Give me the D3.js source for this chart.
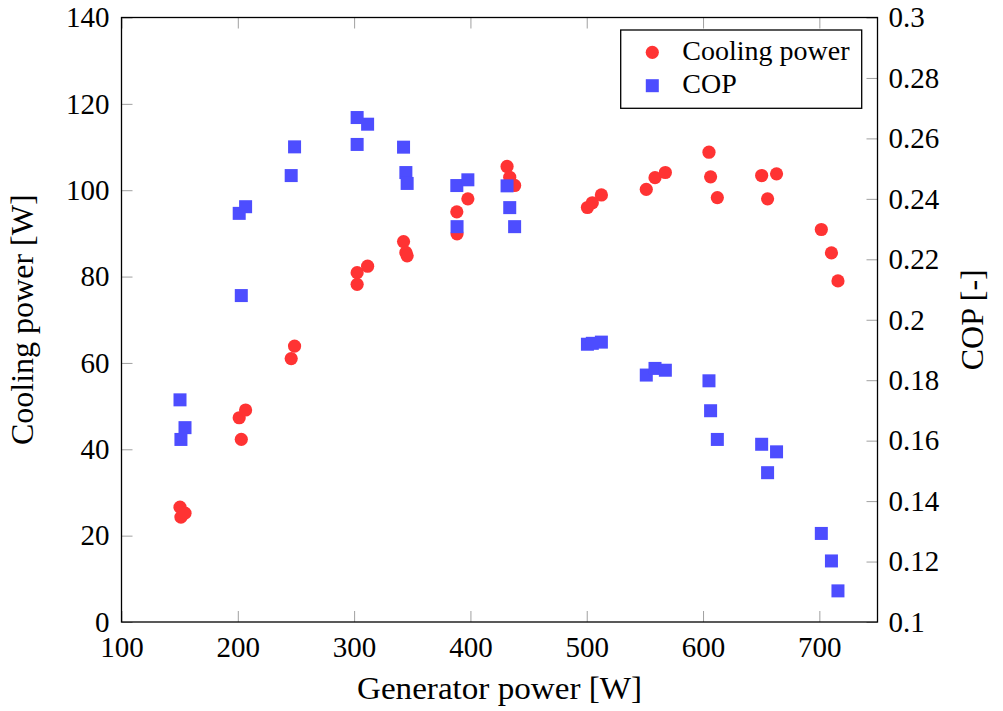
<!DOCTYPE html>
<html>
<head>
<meta charset="utf-8">
<script src="https://cdn.jsdelivr.net/npm/d3@7"></script>
<style>
  html, body { margin: 0; padding: 0; background: #fff; }
  svg { display: block; }
  text { font-family: "Liberation Serif", "Times New Roman", serif; fill: #000; }
</style>
</head>
<body>
<svg id="chart" width="1003" height="711"></svg>
<script>
// ---------- data ----------
const generatorPower = [
  151.1, 150.3, 154.6,
  201.2, 206.7, 203.0,
  245.9, 248.8,
  302.6, 302.6, 311.6,
  342.5, 344.5, 345.6,
  388.3, 388.5, 397.8,
  431.5, 433.8, 438.0,
  500.6, 504.8, 512.6,
  551.2, 558.7, 567.6,
  605.1, 606.5, 612.3,
  650.4, 663.2, 655.5,
  701.7, 710.4, 716.0
];
const coolingPower = [
  24.3, 26.6, 25.2,
  47.3, 49.1, 42.3,
  61.0, 63.9,
  78.2, 80.9, 82.4,
  88.1, 85.6, 84.8,
  95.0, 89.9, 98.0,
  105.5, 103.0, 101.1,
  96.0, 97.1, 98.9,
  100.2, 102.9, 104.1,
  108.8, 103.1, 98.3,
  103.4, 103.8, 98.0,
  90.9, 85.5, 79.0
];
const cop = [
  0.1604, 0.1735, 0.1643,
  0.2352, 0.2374, 0.2080,
  0.2477, 0.2572,
  0.2580, 0.2669, 0.2647,
  0.2571, 0.2487, 0.2451,
  0.2444, 0.2308, 0.2463,
  0.2443, 0.2371, 0.2308,
  0.1919, 0.1922, 0.1926,
  0.1817, 0.1839, 0.1833,
  0.1798, 0.1699, 0.1604,
  0.1588, 0.1563, 0.1494,
  0.1293, 0.1202, 0.1103
];
const xTicks = [100, 200, 300, 400, 500, 600, 700];
const yLeftTicks = [0, 20, 40, 60, 80, 100, 120, 140];
const yRightTicks = [0.1, 0.12, 0.14, 0.16, 0.18, 0.2, 0.22, 0.24, 0.26, 0.28, 0.3];
const yRightTickLabels = ["0.1", "0.12", "0.14", "0.16", "0.18", "0.2", "0.22", "0.24", "0.26", "0.28", "0.3"];
const seriesNames = ["Cooling power", "COP"];
const xTitle = "Generator power [W]";
const yLeftTitle = "Cooling power [W]";
const yRightTitle = "COP [-]";

// ---------- layout ----------
const L = 121.5, R = 877.5, T = 17.5, B = 622;
const red = "#ff3333", blue = "#4d4dff";
const svg = d3.select("#chart");

const x = d3.scaleLinear().domain([100, 750]).range([L, R]);
const yL = d3.scaleLinear().domain([0, 140]).range([B, T]);
const yR = d3.scaleLinear().domain([0.1, 0.3]).range([B, T]);

const tickLen = 11;
function styleAxis(g) {
  g.attr("font-family", null).attr("font-size", null);
  g.select(".domain").remove();
  g.selectAll(".tick line").attr("stroke", "#a0a0a0").attr("stroke-width", 1);
  g.selectAll(".tick text").attr("font-size", 29);
}

// bottom axis
svg.append("g").attr("transform", `translate(0,${B})`)
  .call(d3.axisBottom(x).tickValues(xTicks).tickSize(-tickLen).tickSizeOuter(0).tickPadding(14).tickFormat(d3.format("d")))
  .call(styleAxis);
// top axis (ticks only)
svg.append("g").attr("transform", `translate(0,${T})`)
  .call(d3.axisTop(x).tickValues(xTicks).tickSize(-tickLen).tickSizeOuter(0).tickFormat(""))
  .call(styleAxis);
// left axis
svg.append("g").attr("transform", `translate(${L},0)`)
  .call(d3.axisLeft(yL).tickValues(yLeftTicks).tickSize(-tickLen).tickSizeOuter(0).tickPadding(12).tickFormat(d3.format("d")))
  .call(styleAxis);
// right axis
svg.append("g").attr("transform", `translate(${R},0)`)
  .call(d3.axisRight(yR).tickValues(yRightTicks).tickSize(-tickLen).tickSizeOuter(0).tickPadding(11)
    .tickFormat((d, i) => yRightTickLabels[i]))
  .call(styleAxis);

// frame
svg.append("rect").attr("x", L).attr("y", T).attr("width", R - L).attr("height", B - T)
  .attr("fill", "none").attr("stroke", "#000").attr("stroke-width", 1.3);

// ---------- marks ----------
const rC = 6.6, sq = 13;
const pts = generatorPower.map((g, i) => ({ g, q: coolingPower[i], c: cop[i] }));

svg.append("g").selectAll("circle").data(pts).join("circle")
  .attr("cx", d => x(d.g)).attr("cy", d => yL(d.q)).attr("r", rC).attr("fill", red);

svg.append("g").selectAll("rect").data(pts).join("rect")
  .attr("x", d => x(d.g) - sq / 2).attr("y", d => yR(d.c) - sq / 2)
  .attr("width", sq).attr("height", sq).attr("fill", blue);

// ---------- legend ----------
const lg = svg.append("g");
lg.append("rect").attr("x", 620.7).attr("y", 30).attr("width", 241).attr("height", 78.3)
  .attr("fill", "#fff").attr("stroke", "#000").attr("stroke-width", 1.3);
lg.append("circle").attr("cx", 652.3).attr("cy", 52.3).attr("r", rC).attr("fill", red);
lg.append("rect").attr("x", 652.3 - sq / 2).attr("y", 85.7 - sq / 2).attr("width", sq).attr("height", sq).attr("fill", blue);
lg.append("text").attr("x", 682.3).attr("y", 60).attr("font-size", 28).text(seriesNames[0]);
lg.append("text").attr("x", 682.3).attr("y", 93.3).attr("font-size", 28).text(seriesNames[1]);

// ---------- titles ----------
svg.append("text").attr("x", (L + R) / 2).attr("y", 699).attr("text-anchor", "middle")
  .attr("font-size", 32).attr("textLength", 285).attr("lengthAdjust", "spacingAndGlyphs").text(xTitle);
svg.append("text").attr("transform", `translate(33,${(T + B) / 2}) rotate(-90)`).attr("text-anchor", "middle")
  .attr("font-size", 32).text(yLeftTitle);
svg.append("text").attr("transform", `translate(983,${(T + B) / 2}) rotate(-90)`).attr("text-anchor", "middle")
  .attr("font-size", 32).text(yRightTitle);
</script>
</body>
</html>
